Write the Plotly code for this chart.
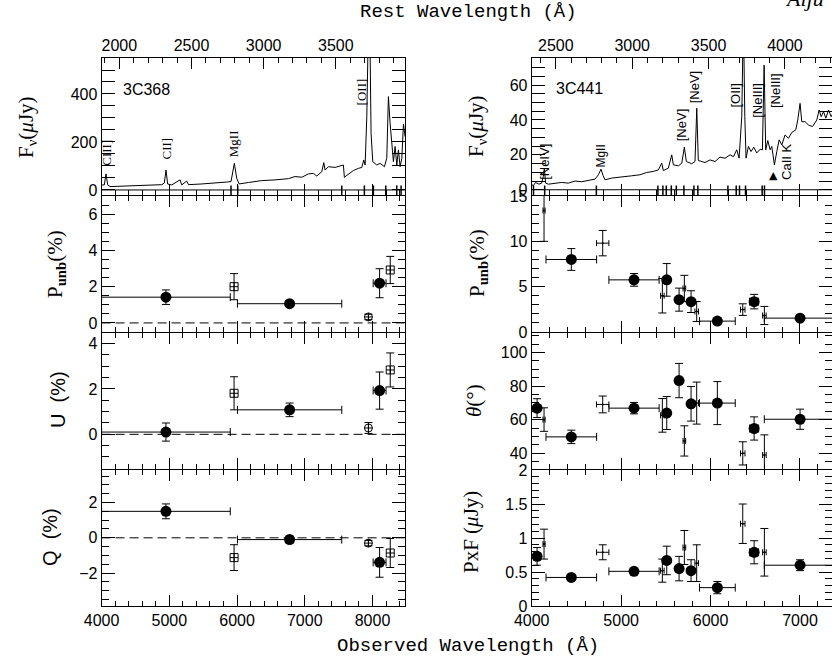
import plotly.graph_objects as go

W, H = 832, 667

# ---------------- data ----------------
z_left = 1.131
z_right = 0.708

# 3C368 spectrum (observed wavelength, F_nu in microJy)
spec_wave_L = [4001, 4040, 4065, 4090, 4124, 4395, 4641, 4888, 4926, 4951,
               4975, 5035, 5158, 5183, 5257, 5282, 5479, 5675, 5848, 5911,
               5960, 5995, 6030, 6167, 6365, 6561, 6758, 6857, 6956, 7053,
               7127, 7177, 7251, 7281, 7300, 7349, 7448, 7521, 7570, 7585,
               7644, 7718, 7792, 7842, 7871, 7891, 7916, 7940, 7960, 7979,
               8004, 8063, 8112, 8176, 8211, 8235, 8260, 8285, 8309, 8334,
               8359, 8383, 8408, 8433, 8457, 8482]
spec_flux_L = [21, 21, 67, 21, 14, 17, 19, 22, 29, 83,
               25, 21, 42, 21, 37, 22, 25, 28, 33, 35,
               111, 49, 25, 31, 39, 42, 47, 56, 53, 67,
               69, 58, 76, 114, 83, 97, 94, 100, 104, 53,
               67, 81, 90, 94, 125, 104, 305, 700, 700, 236,
               118, 104, 111, 97, 132, 389, 278, 208, 118, 181,
               104, 167, 97, 132, 275, 222]

# 3C441 spectrum
spec_wave_R = [3992, 4018, 4044, 4081, 4111, 4130, 4141, 4156, 4186, 4261,
               4335, 4410, 4484, 4559, 4652, 4708, 4746, 4775, 4798, 4820,
               4895, 4969, 5044, 5118, 5211, 5286, 5360, 5416, 5454, 5472,
               5528, 5566, 5584, 5640, 5678, 5707, 5729, 5789, 5826, 5846,
               5863, 5938, 5994, 6050, 6106, 6162, 6218, 6256, 6293, 6319,
               6349, 6367, 6383, 6397, 6423, 6453, 6483, 6517, 6554, 6580,
               6599, 6617, 6640, 6666, 6685, 6714, 6741, 6767, 6797, 6833,
               6871, 6908, 6953, 6975, 7001, 7020, 7057, 7095, 7140, 7188,
               7214, 7237, 7263, 7289, 7319, 7349, 7370]
spec_flux_R = [3.4, 2.3, 4.2, 3.2, 3.8, 7.6, 12.4, 3.8, 3.2, 3.8,
               4.2, 3.8, 5.0, 4.6, 5.7, 6.1, 8.6, 11.8, 8.2, 5.7,
               6.7, 7.0, 7.6, 8.0, 8.6, 9.9, 10.5, 11.4, 15.2, 11.0,
               12.4, 20.0, 14.3, 13.7, 15.2, 24.4, 16.2, 14.9, 16.2, 46.7,
               16.8, 15.6, 17.1, 16.2, 18.7, 18.1, 20.0, 19.0, 22.9, 18.1,
               41.9, 100.0, 41.9, 18.1, 24.8, 21.9, 24.4, 21.1, 23.2, 22.9,
               71.4, 22.9, 28.2, 22.9, 24.8, 14.3, 21.9, 28.6, 25.7, 31.4,
               29.5, 32.8, 34.3, 40.0, 49.5, 39.0, 39.0, 37.1, 36.2, 40.0,
               45.7, 41.9, 44.8, 41.0, 45.7, 41.9, 44.0]

# bin markers along the bottom of the spectra
marks_L = [5911, 6010, 7546, 7880, 8013, 8196, 8358, 8422]
marks_R = [4020, 4145, 4723, 5411, 5467, 5505, 5561, 5617, 5702, 5814,
           5858, 6194, 6287, 6324, 6391, 6577, 6603]

# 3C368 continuum bins (filled circles)
bin_wave_L = [4950, 6776, 8105]
bin_xerr_L = [950, 770, 95]
punb_L = [1.42, 1.06, 2.19]
punb_err_L = [0.40, 0.13, 0.80]
u_L = [0.10, 1.08, 1.93]
u_err_L = [0.40, 0.30, 0.82]
q_L = [1.50, -0.10, -1.39]
q_err_L = [0.42, 0.20, 0.84]

# 3C368 line measurements (open symbols)
line_wave_L = [5956, 7940, 8262]
line_symbol_L = ["square-cross-open", "circle-cross-open", "square-cross-open"]
punb_line_L = [2.00, 0.33, 2.92]
punb_line_err_L = [0.72, 0.15, 0.75]
u_line_L = [1.81, 0.28, 2.84]
u_line_err_L = [0.73, 0.24, 0.75]
q_line_L = [-1.12, -0.30, -0.86]
q_line_err_L = [0.73, 0.15, 0.82]

# 3C441 continuum bins (filled circles)
bin_wave_R = [4060, 4443, 5144, 5510, 5648, 5782, 6076, 6487, 7001]
bin_xerr_R = [40, 283, 281, 20, 20, 20, 200, 50, 400]
punb_R = [None, 8.0, 5.75, 5.75, 3.57, 3.35, 1.2, 3.35, 1.53]
punb_err_R = [0, 1.2, 0.7, 1.8, 1.27, 1.2, 0.3, 0.8, 0.2]
theta_R = [66.9, 49.8, 66.9, 64.0, 83.3, 69.5, 69.9, 54.8, 60.3]
theta_err_R = [5.6, 4.0, 3.4, 9.8, 10.2, 10.3, 12.8, 6.9, 6.0]
pxf_R = [0.73, 0.42, 0.51, 0.67, 0.55, 0.52, 0.27, 0.79, 0.60]
pxf_err_R = [0.13, 0.03, 0.03, 0.21, 0.18, 0.16, 0.09, 0.17, 0.08]

# 3C441 narrow measurements (error bars only)
s_wave_R = [4138, 4794, 5461, 5707, 5845, 6360, 6602]
s_xerr_R = [12, 69, 20, 15, 20, 25, 20]
punb_s_R = [13.4, 9.8, 4.0, 4.8, 2.26, 2.47, 1.82]
punb_s_err_R = [3.4, 1.4, 1.9, 1.45, 1.1, 0.64, 1.0]
theta_s_R = [60.1, 69.1, 62.6, 47.4, 69.9, 40.0, 39.0]
theta_s_err_R = [7.0, 5.0, 10.0, 9.0, 12.5, 6.9, 12.0]
pxf_s_R = [0.91, 0.79, 0.52, 0.86, 0.63, 1.21, 0.79]
pxf_s_err_R = [0.22, 0.11, 0.17, 0.25, 0.27, 0.29, 0.35]

# ---------------- layout helpers ----------------
def xdom(a, b):
    return [a / W, min(b / W, 1.0)]

def ydom(top, bottom):
    return [1 - bottom / H, 1 - top / H]

tops = [58, 196, 333, 470]
bots = [195, 332, 469, 606]
XL = [4000, 8480]
XR = [4000, 7358]
TF = dict(family="Liberation Sans, Arial, sans-serif", size=16, color="black")

def xcfg(domain, rng, labels, anchor, mirror, dt=1000, mdt=200):
    return dict(domain=domain, range=rng, anchor=anchor, showline=True,
                linecolor="black", linewidth=1, mirror=mirror, automargin=False,
                ticks="inside", ticklen=11, tickwidth=1, tickcolor="black",
                dtick=dt, tick0=0,
                minor=dict(ticks="inside", ticklen=5, dtick=mdt, tick0=0,
                           tickcolor="black", tickwidth=1, showgrid=False),
                showticklabels=labels, showgrid=False, zeroline=False,
                tickfont=TF)

def ycfg(domain, rng, anchor, dt, mdt):
    return dict(domain=domain, range=rng, anchor=anchor, showline=True,
                linecolor="black", linewidth=1, mirror="allticks", automargin=False,
                ticks="inside", ticklen=13, tickwidth=1, tickcolor="black",
                dtick=dt, tick0=0,
                minor=dict(ticks="inside", ticklen=7, dtick=mdt, tick0=0,
                           tickcolor="black", tickwidth=1, showgrid=False),
                showgrid=False, zeroline=False, tickfont=TF)

layout = dict(width=W, height=H, margin=dict(l=0, r=0, t=0, b=0, pad=0, autoexpand=False),
              paper_bgcolor="white", plot_bgcolor="white", showlegend=False)

xdL = xdom(101.6, 405)
xdR = xdom(531.7, 832)
yranges = [[-21, 550], [-0.5, 7.0], [-1.53, 4.47], [-3.86, 3.84],
           [-3, 75.5], [0, 15], [30.7, 111.6], [0, 2]]
ydt = [(200, 50), (2, 0.5), (2, 0.5), (2, 0.5), (20, 5), (5, 1), (20, 5), (0.5, 0.1)]

for i in range(8):
    n = i + 1
    col_left = i < 4
    row = i % 4
    xd = xdL if col_left else xdR
    xr = XL if col_left else XR
    mirror = False if row == 0 else "allticks"
    key = "" if n == 1 else str(n)
    layout["xaxis" + key] = xcfg(xd, xr, row == 3, "y" + key, mirror)
    layout["yaxis" + key] = ycfg(ydom(tops[row], bots[row]), yranges[i], "x" + key, *ydt[i])

# rest-frame top axes
layout["xaxis9"] = xcfg(xdL, [XL[0] / (1 + z_left), XL[1] / (1 + z_left)], True, "y", False, 500, 100)
layout["xaxis9"].update(side="top", overlaying="x")
layout["xaxis10"] = xcfg(xdR, [XR[0] / (1 + z_right), XR[1] / (1 + z_right)], True, "y5", False, 500, 100)
layout["xaxis10"].update(side="top", overlaying="x5")

fig = go.Figure(layout=layout)

def ax(n):
    return ("x" if n == 1 else "x%d" % n), ("y" if n == 1 else "y%d" % n)

# spectra
xa, ya = ax(1)
fig.add_trace(go.Scatter(x=spec_wave_L, y=spec_flux_L, mode="lines",
                         line=dict(color="black", width=1), xaxis=xa, yaxis=ya, hoverinfo="skip"))
xa, ya = ax(5)
fig.add_trace(go.Scatter(x=spec_wave_R, y=spec_flux_R, mode="lines",
                         line=dict(color="black", width=1), xaxis=xa, yaxis=ya, hoverinfo="skip"))

# invisible traces to bind the rest-frame axes
fig.add_trace(go.Scatter(x=[XL[0] / (1 + z_left)], y=[0], mode="markers",
                         marker=dict(opacity=0), xaxis="x9", yaxis="y", hoverinfo="skip"))
fig.add_trace(go.Scatter(x=[XR[0] / (1 + z_right)], y=[0], mode="markers",
                         marker=dict(opacity=0), xaxis="x10", yaxis="y5", hoverinfo="skip"))

EB = dict(color="black", thickness=1, width=4)

def circles(n, xs, xe, ys, ye):
    xa, ya = ax(n)
    fig.add_trace(go.Scatter(
        x=xs, y=ys, mode="markers",
        marker=dict(symbol="circle", size=11, color="black"),
        error_x=dict(type="data", array=xe, visible=True, **EB),
        error_y=dict(type="data", array=ye, visible=True, **EB),
        xaxis=xa, yaxis=ya, hoverinfo="skip"))

def opens(n, xs, ys, ye, syms):
    xa, ya = ax(n)
    fig.add_trace(go.Scatter(
        x=xs, y=ys, mode="markers",
        marker=dict(symbol=syms, size=8, color="black",
                    line=dict(color="black", width=1)),
        error_y=dict(type="data", array=ye, visible=True, **EB),
        xaxis=xa, yaxis=ya, hoverinfo="skip"))

def smalls(n, xs, xe, ys, ye):
    xa, ya = ax(n)
    fig.add_trace(go.Scatter(
        x=xs, y=ys, mode="markers",
        marker=dict(symbol="circle", size=2, color="black"),
        error_x=dict(type="data", array=xe, visible=True, color="black", thickness=1, width=3),
        error_y=dict(type="data", array=ye, visible=True, color="black", thickness=1, width=4),
        xaxis=xa, yaxis=ya, hoverinfo="skip"))

# left column
circles(2, bin_wave_L, bin_xerr_L, punb_L, punb_err_L)
circles(3, bin_wave_L, bin_xerr_L, u_L, u_err_L)
circles(4, bin_wave_L, bin_xerr_L, q_L, q_err_L)
opens(2, line_wave_L, punb_line_L, punb_line_err_L, line_symbol_L)
opens(3, line_wave_L, u_line_L, u_line_err_L, line_symbol_L)
opens(4, line_wave_L, q_line_L, q_line_err_L, line_symbol_L)

# right column
circles(6, bin_wave_R, bin_xerr_R, punb_R, punb_err_R)
circles(7, bin_wave_R, bin_xerr_R, theta_R, theta_err_R)
circles(8, bin_wave_R, bin_xerr_R, pxf_R, pxf_err_R)
smalls(6, s_wave_R, s_xerr_R, punb_s_R, punb_s_err_R)
smalls(7, s_wave_R, s_xerr_R, theta_s_R, theta_s_err_R)
smalls(8, s_wave_R, s_xerr_R, pxf_s_R, pxf_s_err_R)

shapes = []
# dashed zero lines in left Punb, U, Q
for n in (2, 3, 4):
    xa, ya = ax(n)
    shapes.append(dict(type="line", xref=xa + " domain", yref=ya, x0=0, x1=1, y0=0, y1=0,
                       line=dict(color="black", width=1, dash="9px,5px")))
# zero flux lines
for n in (1, 5):
    xa, ya = ax(n)
    shapes.append(dict(type="line", xref=xa + " domain", yref=ya, x0=0, x1=1, y0=0, y1=0,
                       line=dict(color="black", width=1)))
# bin marks
for n, marks in ((1, marks_L), (5, marks_R)):
    xa, ya = ax(n)
    for m in marks:
        shapes.append(dict(type="line", xref=xa, yref=ya + " domain", x0=m, x1=m, y0=0, y1=0.07,
                           line=dict(color="black", width=1.5)))
fig.update_layout(shapes=shapes)

ann = []
SER = "Liberation Serif, Times New Roman, serif"
SAN = "Liberation Sans, Arial, sans-serif"
MONO = "Liberation Mono, Courier New, monospace"

def pann(text, px, py, size, family, angle=0, xanchor="center", yanchor="middle", yshift=0):
    ann.append(dict(text=text, x=px / W, y=1 - py / H, xref="paper", yref="paper",
                    showarrow=False, textangle=angle, xanchor=xanchor, yanchor=yanchor,
                    yshift=yshift,
                    font=dict(size=size, family=family, color="black")))

pann("Rest Wavelength (Å)", 468, 12, 19, MONO)
pann("Observed Wavelength (Å)", 468, 646, 19, MONO)
pann("<i>Alju</i>", 783, 0, 22, SER, xanchor="left", yanchor="middle", yshift=2)

# y-axis titles
pann("F<sub>ν</sub>(<i>μ</i>Jy)", 27, 127, 21, SER, -90)
pann("P<sub><b>unb</b></sub>(%)", 56, 264, 21, SER, -90)
pann("U  (%)", 58, 400, 20, SAN, -90)
pann("Q  (%)", 50, 537, 20, SAN, -90)
pann("F<sub>ν</sub>(<i>μ</i>Jy)", 477, 126, 21, SER, -90)
pann("P<sub><b>unb</b></sub>(%)", 478, 263, 21, SER, -90)
pann("<i>θ</i>(°)", 474, 401, 21, SER, -90)
pann("PxF (<i>μ</i>Jy)", 471, 532, 21, SER, -90)

# object names
def dann(n, text, x, y, size, family, angle=0):
    xa, ya = ax(n)
    ann.append(dict(text=text, x=x, y=y, xref=xa, yref=ya, showarrow=False,
                    textangle=angle, font=dict(size=size, family=family, color="black")))

dann(1, "3C368", 4660, 420, 16, SAN)
dann(5, "3C441", 4540, 58, 16, SAN)

# line identifications
dann(1, "CIII]", 4068, 156, 13, SER, -90)
dann(1, "CII]", 4960, 171, 13, SER, -90)
dann(1, "MgII", 5960, 192, 13, SER, -90)
dann(1, "[OII]", 7835, 408, 13, SER, -90)
dann(5, "[NeIV]", 4149, 16, 13, SAN, -90)
dann(5, "MgII", 4775, 19, 12, SAN, -90)
dann(5, "[NeV]", 5670, 37, 13, SAN, -90)
dann(5, "[NeV]", 5821, 59, 13, SAN, -90)
dann(5, "[OII]", 6274, 54, 13, SAN, -90)
dann(5, "[NeIII]", 6531, 51, 13, SAN, -90)
dann(5, "[NeIII]", 6733, 56.6, 13, SAN, -90)
dann(5, "▲", 6699, 8, 11, "DejaVu Sans")
dann(5, "CaII K", 6856, 16, 13, SAN, -90)

fig.update_layout(annotations=ann)
fig.write_html("out.html", config={"displayModeBar": False},
               post_script="document.body.style.margin='0px';document.body.style.overflow='hidden';")
